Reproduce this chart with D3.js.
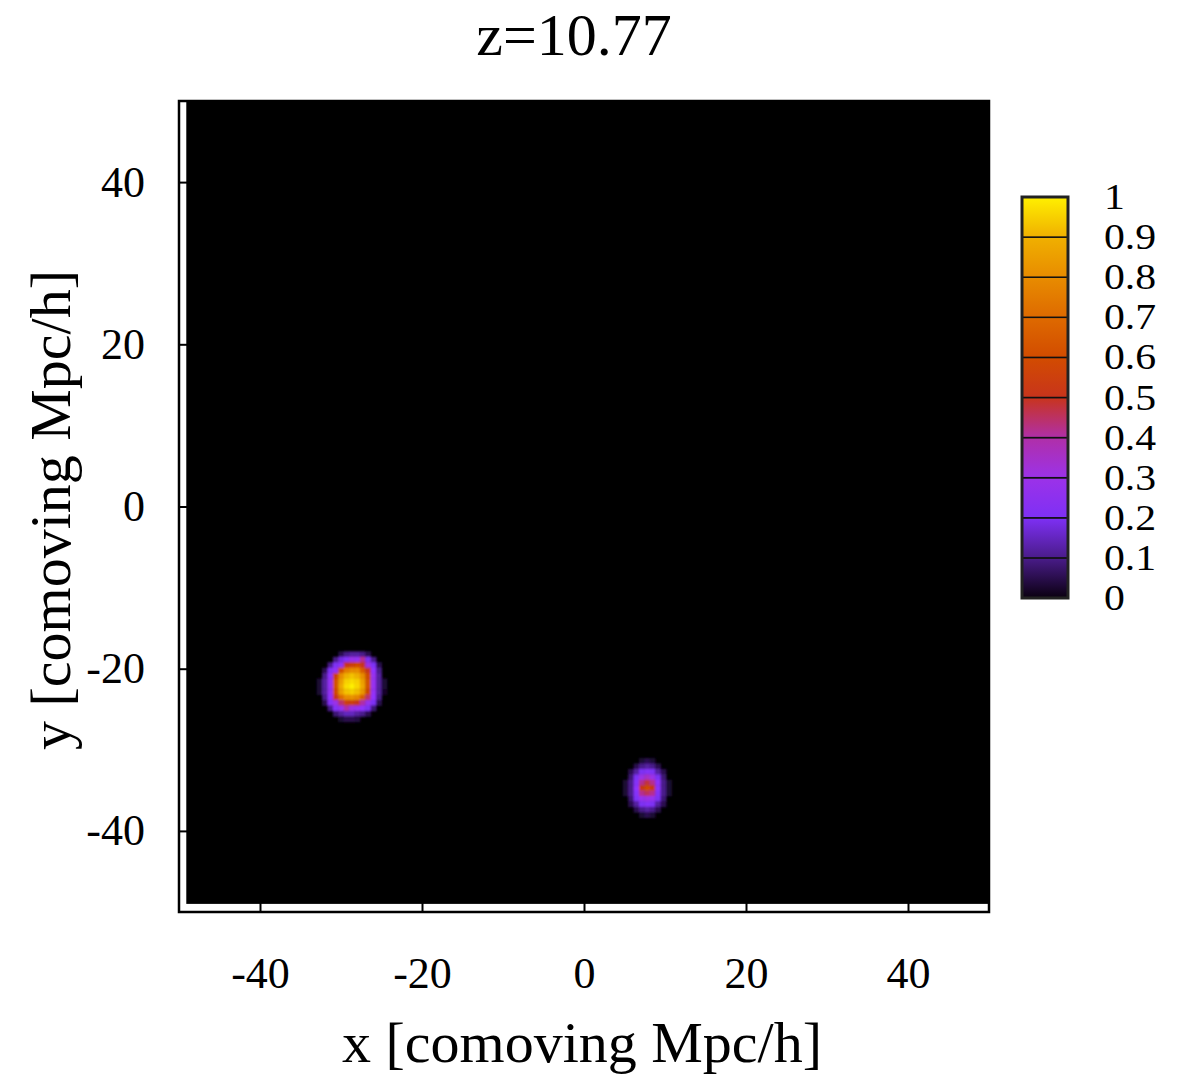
<!DOCTYPE html>
<html>
<head>
<meta charset="utf-8">
<script src="https://cdn.jsdelivr.net/npm/d3@7"></script>
<style>
  html, body { margin: 0; padding: 0; background: #ffffff; }
  svg { display: block; }
  text { font-family: "Liberation Serif", "Times New Roman", serif; fill: #000; }
</style>
</head>
<body>
<div id="chart"></div>
<script>
// ---------------- data ----------------
const titleText = "z=10.77";
const xLabel = "x [comoving Mpc/h]";
const yLabel = "y [comoving Mpc/h]";
const xDomain = [-50, 50];
const yDomain = [-50, 50];
const xTicks = [-40, -20, 0, 20, 40];
const yTicks = [-40, -20, 0, 20, 40];
const cbTicks = [0, 0.1, 0.2, 0.3, 0.4, 0.5, 0.6, 0.7, 0.8, 0.9, 1];
const cbTickLabels = ["0", "0.1", "0.2", "0.3", "0.4", "0.5", "0.6", "0.7", "0.8", "0.9", "1"];
// extent of the (zero-valued) map in data units
const mapExtentX = [-49.1, 50];
const mapExtentY = [-49.0, 50];
const cellSize = 0.6667; // Mpc/h per map cell

// palette stops (value, colour)
const paletteValues = [0, 0.05, 0.1, 0.2, 0.25, 0.3, 0.4, 0.45, 0.5, 0.6, 0.7, 0.8, 0.9, 1.0];
const paletteColors = ["#0a0010", "#2a1050", "#4a1c8a", "#7e30f5", "#9033ff", "#9c32e8",
                       "#b02fa8", "#bc3070", "#c8341c", "#d24c00", "#de6a00", "#e88c00",
                       "#f0b000", "#fff000"];

// blob 1: top-left corner (data units), rows top -> bottom
const blob1Origin = [-33.0, -17.87];
const blob1 = [
  [0,0,0,0,0.05,0.1,0.12,0.12,0.1,0.05,0,0,0],
  [0,0,0,0.1,0.18,0.22,0.3,0.28,0.42,0.2,0.1,0,0],
  [0,0,0.1,0.2,0.25,0.5,0.55,0.6,0.5,0.3,0.2,0.05,0],
  [0,0.05,0.2,0.27,0.6,0.75,0.8,0.8,0.65,0.5,0.25,0.1,0],
  [0,0.1,0.25,0.55,0.8,0.9,0.93,0.9,0.8,0.6,0.28,0.12,0],
  [0.03,0.12,0.27,0.62,0.85,0.95,0.97,0.95,0.85,0.62,0.28,0.12,0.03],
  [0.03,0.12,0.27,0.62,0.88,0.97,1.0,0.96,0.87,0.62,0.28,0.12,0.03],
  [0.03,0.12,0.27,0.6,0.85,0.93,0.95,0.92,0.83,0.58,0.27,0.12,0.02],
  [0,0.1,0.25,0.5,0.7,0.8,0.82,0.78,0.65,0.45,0.25,0.1,0],
  [0,0.05,0.22,0.3,0.45,0.55,0.55,0.5,0.4,0.28,0.2,0.05,0],
  [0,0,0.1,0.22,0.27,0.4,0.3,0.28,0.25,0.2,0.08,0,0],
  [0,0,0,0.08,0.12,0.15,0.15,0.12,0.1,0.05,0,0,0],
  [0,0,0,0,0.03,0.05,0.05,0.04,0,0,0,0,0]
];

// blob 2
const blob2Origin = [4.79, -31.03];
const blob2 = [
  [0,0,0,0.03,0.05,0.03,0,0,0],
  [0,0,0.05,0.1,0.12,0.1,0.05,0,0],
  [0,0.05,0.12,0.2,0.22,0.2,0.12,0.05,0],
  [0,0.08,0.2,0.3,0.35,0.3,0.2,0.08,0],
  [0.03,0.1,0.22,0.42,0.48,0.42,0.25,0.1,0.03],
  [0.03,0.1,0.25,0.52,0.6,0.52,0.25,0.1,0.03],
  [0.03,0.1,0.22,0.42,0.46,0.42,0.22,0.1,0.03],
  [0,0.08,0.2,0.28,0.3,0.28,0.2,0.08,0],
  [0,0.05,0.12,0.2,0.22,0.2,0.12,0.05,0],
  [0,0,0.05,0.1,0.12,0.1,0.05,0,0],
  [0,0,0,0.03,0.05,0.03,0,0,0]
];

// ---------------- drawing ----------------
const W = 1190, H = 1076;
const plot = {left: 179, right: 989, top: 101, bottom: 912};
const cb = {left: 1022, right: 1068, top: 197, bottom: 598};

const svg = d3.select("#chart").append("svg").attr("width", W).attr("height", H);

const x = d3.scaleLinear().domain(xDomain).range([plot.left, plot.right]);
const y = d3.scaleLinear().domain(yDomain).range([plot.bottom, plot.top]);
const color = d3.scaleLinear().domain(paletteValues).range(paletteColors).clamp(true);
const cbY = d3.scaleLinear().domain([0, 1]).range([cb.bottom, cb.top]);

const defs = svg.append("defs");
defs.append("filter").attr("id", "soft")
  .attr("x", "-20%").attr("y", "-20%").attr("width", "140%").attr("height", "140%")
  .append("feGaussianBlur").attr("stdDeviation", 1.3);

// map background (value 0)
svg.append("rect")
  .attr("x", x(mapExtentX[0])).attr("y", y(mapExtentY[1]))
  .attr("width", x(mapExtentX[1]) - x(mapExtentX[0]))
  .attr("height", y(mapExtentY[0]) - y(mapExtentY[1]))
  .attr("fill", "#000");

function drawBlob(matrix, origin) {
  const cells = [];
  matrix.forEach((row, r) => row.forEach((v, c) => {
    if (v > 0) cells.push({x0: origin[0] + c * cellSize, y0: origin[1] - r * cellSize, v});
  }));
  svg.append("g").attr("filter", "url(#soft)")
    .selectAll("rect").data(cells).join("rect")
    .attr("x", d => x(d.x0))
    .attr("y", d => y(d.y0))
    .attr("width", d => x(d.x0 + cellSize) - x(d.x0) + 0.4)
    .attr("height", d => y(d.y0 - cellSize) - y(d.y0) + 0.4)
    .attr("fill", d => color(d.v));
}
drawBlob(blob1, blob1Origin);
drawBlob(blob2, blob2Origin);

// axes (hyphen-minus labels, as in the reference)
const fmt = d => String(d);
const xAxis = d3.axisBottom(x).tickValues(xTicks).tickSize(-9).tickPadding(45).tickFormat(fmt);
const yAxis = d3.axisLeft(y).tickValues(yTicks).tickSize(-9).tickPadding(34).tickFormat(fmt);

const gx = svg.append("g").attr("transform", `translate(0,${plot.bottom})`).call(xAxis);
const gy = svg.append("g").attr("transform", `translate(${plot.left},0)`).call(yAxis);
[gx, gy].forEach(g => {
  g.select(".domain").remove();
  g.selectAll(".tick line").attr("stroke", "#000").attr("stroke-width", 2);
  g.selectAll(".tick text").style("font-family", "'Liberation Serif', serif").style("font-size", "44px").attr("fill", "#000");
});

// frame
svg.append("rect")
  .attr("x", plot.left).attr("y", plot.top)
  .attr("width", plot.right - plot.left).attr("height", plot.bottom - plot.top)
  .attr("fill", "none").attr("stroke", "#000").attr("stroke-width", 2.5);

// colour box
const bands = d3.range(cbTicks.length - 1).map(i => [cbTicks[i], cbTicks[i + 1]]);
bands.forEach((b, i) => {
  const gid = "band" + i;
  const lg = defs.append("linearGradient").attr("id", gid)
    .attr("x1", 0).attr("y1", 1).attr("x2", 0).attr("y2", 0);
  lg.append("stop").attr("offset", 0).attr("stop-color", color(b[0]));
  lg.append("stop").attr("offset", 1).attr("stop-color", color(b[1]));
  svg.append("rect")
    .attr("x", cb.left).attr("y", cbY(b[1]))
    .attr("width", cb.right - cb.left).attr("height", cbY(b[0]) - cbY(b[1]))
    .attr("fill", `url(#${gid})`)
    .attr("stroke", "#111").attr("stroke-width", 1.5);
});
svg.append("rect")
  .attr("x", cb.left).attr("y", cb.top)
  .attr("width", cb.right - cb.left).attr("height", cb.bottom - cb.top)
  .attr("fill", "none").attr("stroke", "#222").attr("stroke-width", 3);

const cbAxis = d3.axisRight(cbY).tickValues(cbTicks).tickSize(0).tickPadding(36)
  .tickFormat((d, i) => cbTickLabels[i]);
const gcb = svg.append("g").attr("transform", `translate(${cb.right},0)`).call(cbAxis);
gcb.select(".domain").remove();
gcb.selectAll(".tick text")
  .style("font-family", "'Liberation Serif', serif").style("font-size", "36px").attr("fill", "#000")
  .attr("x", 31).attr("transform", "scale(1.16,1)");

// title & labels
svg.append("text").attr("x", 574).attr("y", 55).attr("text-anchor", "middle")
  .style("font-size", "60px").text(titleText);
svg.append("text").attr("x", 582).attr("y", 1062).attr("text-anchor", "middle")
  .style("font-size", "58px").text(xLabel);
svg.append("text").attr("transform", "translate(70,510) rotate(-90)").attr("text-anchor", "middle")
  .style("font-size", "58px").text(yLabel);
</script>
</body>
</html>
